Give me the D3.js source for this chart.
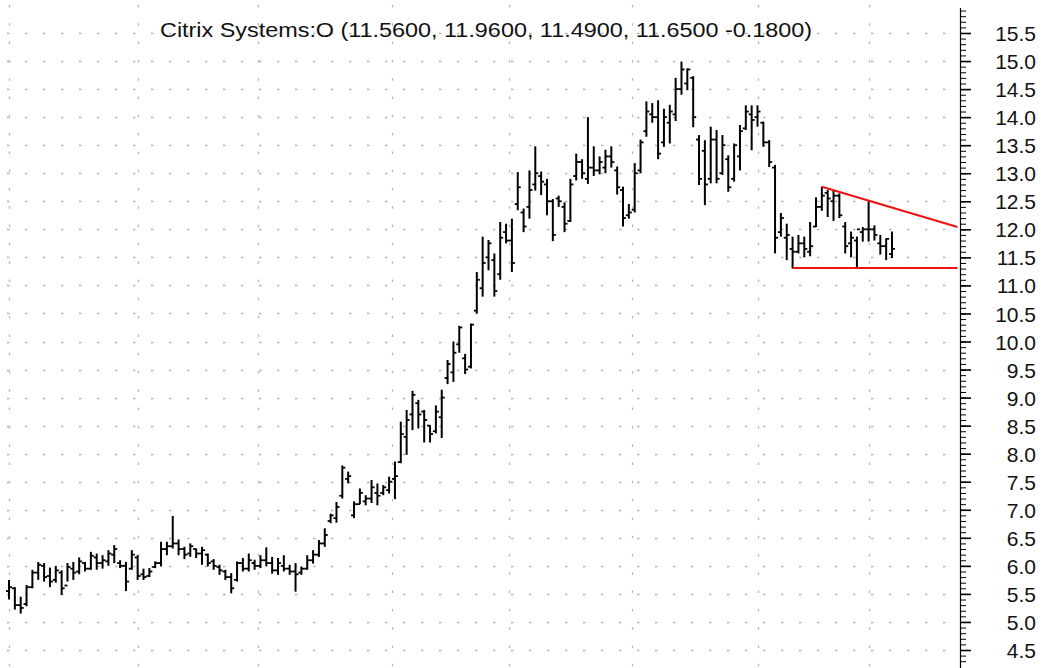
<!DOCTYPE html>
<html><head><meta charset="utf-8">
<script src="https://cdnjs.cloudflare.com/ajax/libs/d3/7.8.5/d3.min.js"></script>
<style>
html,body{margin:0;padding:0;background:#fff;}
svg{display:block;}
.ylab{font-family:'Liberation Sans',Arial,sans-serif;font-size:21px;fill:#111;}
</style></head>
<body><svg id="c" width="1061" height="668"></svg>
<script>
// ---- data (bar index order, daily OHLC) ----
const opens = [5.55,5.60,5.30,5.32,5.62,5.88,6.00,5.82,5.75,5.88,5.65,5.95,5.90,6.05,5.95,6.15,6.05,6.08,6.20,6.05,6.00,5.95,6.15,5.85,5.82,
5.98,6.05,6.30,6.35,6.40,6.30,6.22,6.30,6.22,6.20,6.08,5.98,5.90,5.80,5.75,6.05,5.95,6.05,6.00,6.10,6.05,5.92,6.00,5.95,5.90,
5.88,5.95,6.10,6.20,6.40,6.80,6.85,7.25,7.55,6.90,7.10,7.15,7.20,7.30,7.30,7.35,7.55,7.85,8.30,8.70,8.90,8.75,8.50,8.40,8.65,
9.35,9.45,9.95,9.70,9.55,10.55,10.95,11.50,11.45,11.20,11.95,11.80,12.45,12.30,12.40,12.80,12.95,12.80,12.50,12.55,12.40,12.15,12.95,13.20,12.90,
13.10,13.05,13.10,13.30,13.05,12.70,12.25,12.35,13.05,13.75,14.05,14.00,13.55,13.90,14.05,14.50,14.60,14.70,13.60,13.40,12.90,13.60,13.00,13.25,12.90,
13.30,13.80,14.05,14.00,13.90,13.55,13.10,11.95,11.85,11.65,11.60,11.75,11.60,12.05,12.40,12.65,12.50,12.60,12.05,11.75,11.80,11.95,12.00,12.00,11.75,11.70,11.56];
const highs = [5.75,5.62,5.45,5.66,5.93,6.07,6.05,5.97,6.00,5.92,6.05,6.07,6.15,6.07,6.25,6.22,6.19,6.28,6.37,6.10,6.07,6.28,6.19,5.95,5.96,
6.08,6.43,6.43,6.89,6.47,6.34,6.40,6.31,6.34,6.22,6.12,6.02,5.93,5.87,6.08,6.14,6.22,6.11,6.19,6.33,6.16,6.14,6.19,6.02,6.05,
5.99,6.19,6.28,6.46,6.67,6.93,7.14,7.79,7.68,7.15,7.38,7.26,7.53,7.47,7.44,7.59,7.86,8.57,8.78,9.12,8.96,8.78,8.51,8.86,9.14,
9.67,10.00,10.28,9.78,10.32,11.24,11.87,11.81,11.57,12.13,12.10,12.19,13.02,12.37,13.05,13.48,13.03,12.90,12.54,12.60,12.48,12.90,13.35,13.25,14.00,
13.48,13.30,13.42,13.48,13.12,12.76,12.45,13.18,13.60,14.28,14.25,14.30,14.15,14.22,14.70,14.99,14.87,14.73,13.68,13.59,13.83,13.77,13.68,13.32,13.53,
13.86,14.21,14.21,14.21,13.92,13.59,13.15,12.29,12.10,11.87,11.90,11.87,12.13,12.57,12.76,12.70,12.70,12.64,12.13,11.96,11.87,12.04,12.50,12.07,11.90,11.84,11.96];
const lows = [5.40,5.22,5.15,5.28,5.60,5.75,5.72,5.62,5.70,5.48,5.72,5.75,5.85,5.90,5.93,5.93,5.95,6.00,6.05,5.96,5.55,5.93,5.75,5.75,5.80,
5.96,5.99,6.19,6.31,6.19,6.12,6.16,6.14,6.02,5.99,5.93,5.84,5.75,5.51,5.72,5.90,5.90,5.93,5.96,5.99,5.86,5.84,5.90,5.84,5.54,
5.84,5.93,6.04,6.16,6.34,6.76,6.77,7.20,7.47,6.85,7.10,7.08,7.12,7.08,7.26,7.29,7.19,7.83,7.98,8.42,8.45,8.20,8.20,8.36,8.28,
9.24,9.28,9.80,9.42,9.52,10.50,10.80,11.27,10.80,11.10,11.75,11.24,12.34,11.95,12.19,12.69,12.61,12.25,11.79,12.40,11.95,12.13,12.87,12.90,12.81,
12.95,12.98,13.00,13.10,12.62,12.05,12.19,12.30,13.00,13.65,13.90,13.25,13.47,13.53,13.93,14.40,14.48,13.82,12.79,12.43,12.82,12.82,12.97,12.67,12.85,
13.05,13.77,13.41,13.83,13.47,13.11,11.57,11.87,11.45,11.30,11.57,11.50,11.52,12.04,12.33,12.22,12.15,12.20,11.57,11.50,11.31,11.78,11.78,11.80,11.55,11.45,11.49];
const closes = [5.62,5.30,5.25,5.62,5.88,6.02,5.80,5.72,5.92,5.60,5.98,5.88,6.08,5.95,6.18,6.05,6.10,6.22,6.30,6.00,5.72,6.20,5.82,5.80,5.90,
6.05,6.30,6.35,6.40,6.30,6.20,6.35,6.22,6.28,6.05,6.00,5.92,5.80,5.60,6.05,5.95,6.10,6.00,6.10,6.05,5.92,6.05,5.95,5.90,5.85,
5.95,6.10,6.20,6.40,6.55,6.90,7.05,7.75,7.60,7.10,7.30,7.20,7.40,7.25,7.40,7.50,7.60,8.35,8.60,9.05,8.70,8.60,8.35,8.75,9.00,
9.60,9.80,10.25,9.50,10.30,11.10,11.40,11.75,10.90,11.85,11.80,11.40,12.75,12.05,12.70,13.00,12.85,12.50,11.90,12.50,12.10,12.80,13.20,13.00,13.10,
13.05,13.20,13.30,13.20,12.75,12.20,12.30,13.00,13.55,14.10,14.00,13.35,14.00,14.10,14.50,14.85,14.85,14.00,12.90,12.80,13.60,12.90,13.50,12.75,13.50,
13.75,14.10,13.95,14.10,13.55,13.20,11.85,12.20,11.90,11.60,11.75,11.65,11.70,12.40,12.60,12.55,12.60,12.25,11.70,11.85,12.00,12.00,12.00,11.90,11.70,11.83,11.65];

// month boundaries (bar index) for vertical grid
const monthStarts = [0, 22, 42.5, 65.5, 85.5, 106.5, 128, 147];
// price levels
const gridLevels = d3.range(4.5, 15.51, 0.5);
const labelLevels = d3.range(4.5, 15.51, 0.5);
const minorLevels = d3.range(4.3, 15.95, 0.1);
// trend lines (bar index, price)
const resistance = [[139, 12.76], [162.2, 12.04]];
const support = [[134, 11.31], [162.2, 11.31]];
const titleText = "Citrix Systems:O (11.5600, 11.9600, 11.4900, 11.6500 -0.1800)";

const N = opens.length;
const bars = d3.range(N).map(i => ({i, o: opens[i], h: highs[i], l: lows[i], c: closes[i]}));

const svg = d3.select("#c");
const x = d3.scaleLinear().domain([0, N - 1]).range([9, 892]);
const y = d3.scaleLinear().domain([4.5, 15.5]).range([650, 33]);
const axisX = 960;

// grid
const g = svg.append("g").attr("stroke", "#b4b4b4").attr("stroke-width", 1.3);
g.selectAll("line.h").data(gridLevels).join("line")
  .attr("x1", 7).attr("x2", axisX - 2)
  .attr("y1", d => Math.round(y(d)) + 0.5).attr("y2", d => Math.round(y(d)) + 0.5)
  .attr("stroke-dasharray", "2.5,15.5");
g.selectAll("line.v").data(monthStarts).join("line")
  .attr("x1", d => Math.round(x(d)) + 0.5).attr("x2", d => Math.round(x(d)) + 0.5)
  .attr("y1", 5).attr("y2", 668)
  .attr("stroke-dasharray", "2.5,15.8");

// title
svg.append("text").attr("x", 486).attr("y", 37)
  .attr("text-anchor", "middle")
  .attr("font-family", "'Liberation Sans Narrow','Arial Narrow','Liberation Sans',Arial,sans-serif")
  .attr("font-size", 20).attr("fill", "#111")
  .attr("textLength", 652).attr("lengthAdjust", "spacingAndGlyphs")
  .text(titleText);

// OHLC bars
const bg = svg.append("g").attr("stroke", "#000").attr("stroke-width", 2);
bg.selectAll("line.hl").data(bars).join("line")
  .attr("x1", d => x(d.i)).attr("x2", d => x(d.i))
  .attr("y1", d => y(d.h)).attr("y2", d => y(d.l));
bg.selectAll("line.o").data(bars).join("line")
  .attr("x1", d => x(d.i) - 3).attr("x2", d => x(d.i))
  .attr("y1", d => y(d.o)).attr("y2", d => y(d.o)).attr("stroke-width", 1.8);
bg.selectAll("line.c").data(bars).join("line")
  .attr("x1", d => x(d.i)).attr("x2", d => x(d.i) + 3)
  .attr("y1", d => y(d.c)).attr("y2", d => y(d.c)).attr("stroke-width", 1.8);

// trend lines
const line = d3.line().x(d => x(d[0])).y(d => y(d[1]));
[resistance, support].forEach(p => {
  svg.append("path").attr("d", line(p)).attr("fill", "none")
    .attr("stroke", "#ee1111").attr("stroke-width", 2);
});

// y axis
const ax = svg.append("g").attr("transform", `translate(${axisX},0)`);
ax.append("line").attr("x1", 0.5).attr("x2", 0.5).attr("y1", 8).attr("y2", 668).attr("stroke", "#000").attr("stroke-width", 1.2);
ax.append("g").call(d3.axisRight(y).tickValues(minorLevels).tickSize(6).tickFormat(""))
  .call(s => s.select(".domain").remove())
  .selectAll("line").attr("stroke", "#000").attr("stroke-width", 1);
const major = ax.append("g").call(d3.axisRight(y).tickValues(labelLevels).tickSize(11).tickFormat(d3.format(".1f")));
major.attr("font-size", null).attr("font-family", null);
major.select(".domain").remove();
major.selectAll("line").attr("stroke", "#000").attr("stroke-width", 1.6);
major.selectAll("text").attr("class", "ylab").attr("x", 76).attr("text-anchor", "end")
  .attr("fill", null).attr("dy", "0.36em");
</script></body></html>
